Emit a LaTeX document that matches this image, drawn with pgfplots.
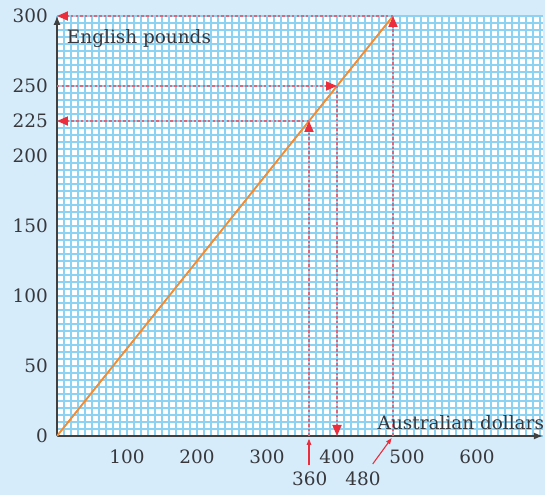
\documentclass[border=0pt]{standalone}
\usepackage{fontspec}
\setmainfont{DejaVu Serif}
\usepackage{pgfplots}
\pgfplotsset{compat=1.18}
\usetikzlibrary{arrows.meta}
\definecolor{bgblue}{RGB}{214,236,250}
\definecolor{gridc}{RGB}{140,211,243}
\definecolor{dashred}{RGB}{214,105,125}
\definecolor{arrred}{RGB}{235,45,60}
\definecolor{lineorange}{RGB}{242,140,50}
\definecolor{txt}{RGB}{55,55,60}
\newcommand\fs{\fontsize{18.5}{22}\selectfont}
\begin{document}
\begin{tikzpicture}
\fill[bgblue] (-57bp,-59bp) rectangle (488bp,436bp);
\useasboundingbox (-57bp,-59bp) rectangle (488bp,436bp);
\begin{axis}[
  x=0.7bp, y=1.4bp,
  xmin=0, xmax=694, ymin=0, ymax=300,
  clip=false,
  axis lines=left,
  axis line style={draw=black!75, line width=1.2bp},
  x axis line style={-{Latex[length=9bp,width=7bp]}},
  y axis line style={-{Latex[length=9bp,width=7bp]}},
  axis background/.style={fill=white},
  xtick={0,10,...,690},
  xticklabels={},
  ytick={0,5,...,300},
  yticklabels={},
  xmajorgrids, ymajorgrids,
  major grid style={draw=gridc, line width=2bp},
  extra x ticks={100,200,...,600},
  extra y ticks={0,50,100,150,200,225,250,300},
  extra tick style={grid=none},
  major tick length=0pt, minor tick length=0pt,
  /pgf/number format/assume math mode=true,
  every tick label/.append style={font=\fs, text=txt},
  xticklabel style={anchor=center, yshift=-21bp},
  yticklabel style={anchor=east, inner sep=0pt, xshift=-9bp},
  redarr/.style={dashred, line width=1.8bp, dash pattern=on 2.5bp off 2.2bp,
    -{Triangle[length=11bp,width=9bp,color=arrred]}},
]
\addplot[lineorange, line width=1.8bp] coordinates {(0,0) (480,300)};
\addplot[redarr] coordinates {(480,0) (480,300)};
\addplot[redarr] coordinates {(480,300) (0,300)};
\addplot[redarr] coordinates {(360,0) (360,225)};
\addplot[redarr] coordinates {(360,225) (0,225)};
\addplot[redarr] coordinates {(0,250) (400,250)};
\addplot[redarr] coordinates {(400,250) (400,0)};
\addplot[arrred, line width=1.1bp, -{Triangle[length=6bp,width=4.5bp]}] coordinates {(360,-20.5) (360,-2)};
\addplot[arrred, line width=1.1bp, -{Triangle[length=6bp,width=4.5bp]}] coordinates {(451,-20) (478,-1.5)};
\node[anchor=west, text=txt, font=\fs, inner sep=0pt] at (axis cs:14,284) {English pounds};
\node[anchor=east, text=txt, font=\fs, inner sep=0pt] at (axis cs:696,9.3) {Australian dollars};
\node[text=txt, font=\fs, inner sep=0pt] at (axis cs:361,-30.7) {360};
\node[text=txt, font=\fs, inner sep=0pt] at (axis cs:437,-30.7) {480};
\end{axis}
\end{tikzpicture}
\end{document}
